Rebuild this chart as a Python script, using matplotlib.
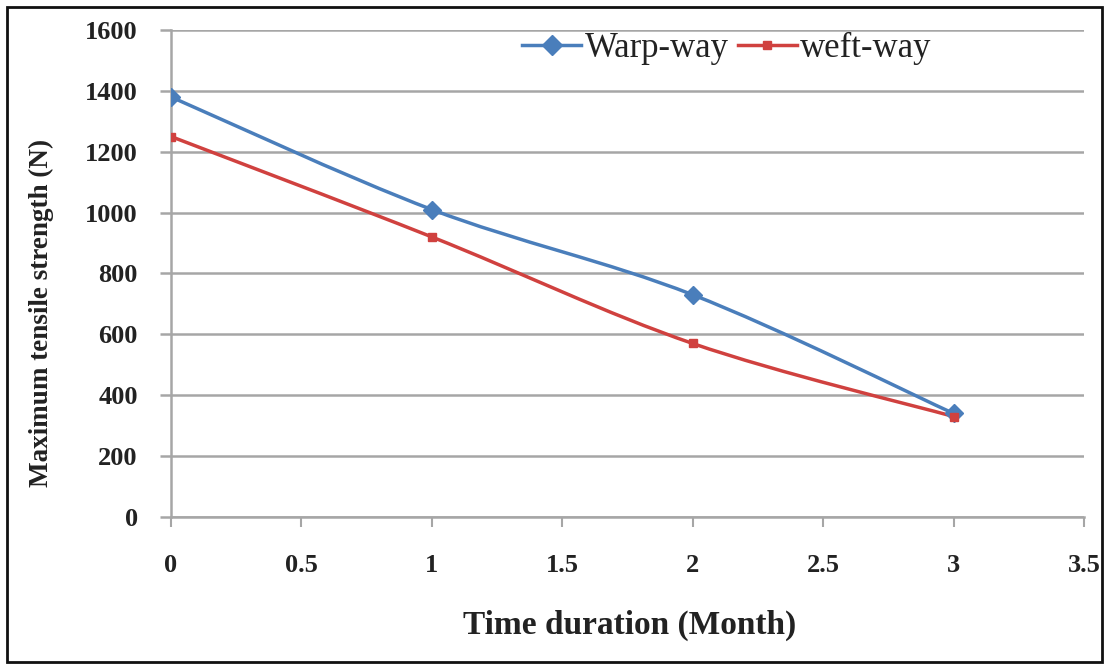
import matplotlib
matplotlib.use("Agg")
import matplotlib.pyplot as plt
from matplotlib.path import Path
from matplotlib.patches import PathPatch, Rectangle
from matplotlib.lines import Line2D
import numpy as np

months = [0, 1, 2, 3]
warp_way = [1380, 1010, 730, 340]
weft_way = [1250, 920, 570, 330]
x_ticks = [0, 0.5, 1, 1.5, 2, 2.5, 3, 3.5]
x_tick_labels = ["0", "0.5", "1", "1.5", "2", "2.5", "3", "3.5"]
y_ticks = [0, 200, 400, 600, 800, 1000, 1200, 1400, 1600]

BLUE = "#4a7ebb"
RED = "#d0413f"
GRID = "#a6a6a6"

plt.rcParams["font.family"] = ["Liberation Serif", "DejaVu Serif"]

fig = plt.figure(figsize=(11.09, 6.65), dpi=100)
ax = fig.add_axes([0.1542, 0.2226, 0.8233, 0.7323])


def smooth_path(xs, ys):
    pts = np.column_stack([xs, ys]).astype(float)
    n = len(pts)
    verts = [pts[0]]
    codes = [Path.MOVETO]
    for i in range(n - 1):
        p_prev = pts[i - 1] if i > 0 else pts[i]
        p_next2 = pts[i + 2] if i + 2 < n else pts[i + 1]
        c1 = pts[i] + (pts[i + 1] - p_prev) / 6.0
        c2 = pts[i + 1] - (p_next2 - pts[i]) / 6.0
        verts += [c1, c2, pts[i + 1]]
        codes += [Path.CURVE4] * 3
    return Path(verts, codes)


ax.add_patch(PathPatch(smooth_path(months, warp_way), facecolor="none",
                       edgecolor=BLUE, lw=2.5, zorder=3, capstyle="round"))
ax.add_patch(PathPatch(smooth_path(months, weft_way), facecolor="none",
                       edgecolor=RED, lw=2.5, zorder=3, capstyle="round"))
ax.plot(months, warp_way, linestyle="none", marker="D", ms=9, color=BLUE, zorder=4)
ax.plot(months, weft_way, linestyle="none", marker="s", ms=5.5, color=RED, zorder=4)

ax.set_xlim(0, 3.5)
ax.set_ylim(0, 1600)
ax.set_xticks(x_ticks)
ax.set_xticklabels(x_tick_labels)
ax.set_yticks(y_ticks)

ax.yaxis.grid(True, color=GRID, lw=1.8)
ax.set_axisbelow(True)
for s in ["top", "right"]:
    ax.spines[s].set_visible(False)
for s in ["left", "bottom"]:
    ax.spines[s].set_color(GRID)
    ax.spines[s].set_linewidth(1.8)

ax.tick_params(axis="x", length=7, width=1.5, color=GRID, pad=20,
               labelsize=19)
ax.tick_params(axis="y", length=8, width=1.8, color=GRID, pad=16,
               labelsize=19)
for lab in ax.get_xticklabels() + ax.get_yticklabels():
    lab.set_fontweight("bold")
    lab.set_color("#222222")

fig.text(0.568, 0.06, "Time duration (Month)", ha="center", va="center",
         fontsize=24, fontweight="bold", color="#222222")
fig.text(0.037, 0.529, "Maximum tensile strength (N)", ha="center", va="center",
         rotation=90, fontsize=19.5, fontweight="bold", color="#222222")

handles = [Line2D([], [], color=BLUE, lw=2.5, marker="D", ms=10),
           Line2D([], [], color=RED, lw=2.5, marker="s", ms=6)]
leg = ax.legend(handles, ["Warp-way", "weft-way"], loc="center",
                bbox_to_anchor=(0.609, 0.962), ncol=2, frameon=False,
                fontsize=25, handlelength=1.7, handletextpad=0.1,
                columnspacing=0.25)
for t in leg.get_texts():
    t.set_color("#222222")

fig.patches.append(Rectangle((7 / 1109, 3 / 665), 1095 / 1109, 655 / 665,
                             transform=fig.transFigure, fill=False,
                             edgecolor="#111111", lw=2.0))

fig.savefig("out.png", dpi=100)
